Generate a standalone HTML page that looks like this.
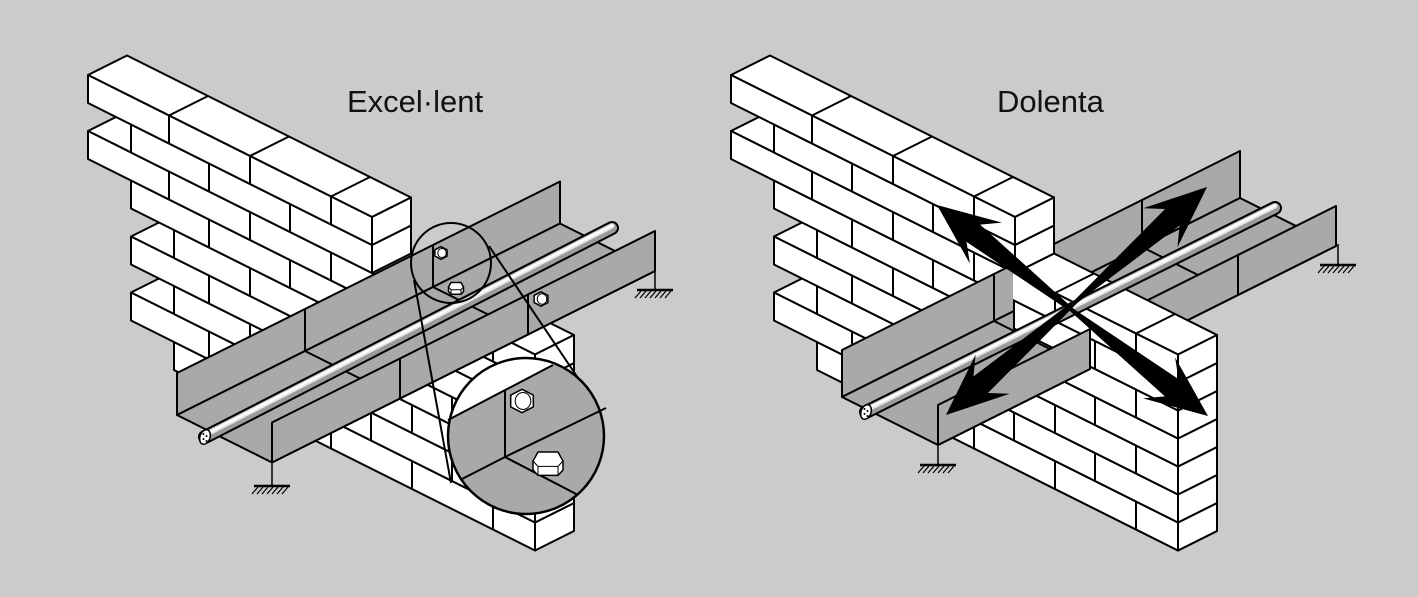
<!DOCTYPE html>
<html><head><meta charset="utf-8">
<style>
html,body{margin:0;padding:0;background:#cbcbcb;width:1418px;height:597px;overflow:hidden}
svg{display:block}
text{font-family:"Liberation Sans",sans-serif;fill:#111}
</style></head>
<body>
<svg id="s" width="1418" height="597" viewBox="0 0 1418 597" xmlns="http://www.w3.org/2000/svg">
<defs>
<clipPath id="cr"><rect x="1013" y="0" width="405" height="597"/></clipPath>
<clipPath id="bc"><circle cx="526" cy="436" r="78"/></clipPath>
</defs>
<rect width="1418" height="597" fill="#cbcbcb"/>
<g id="g"></g>
<text x="347" y="112" font-size="31">Excel·lent</text>
<text x="997" y="112" font-size="31">Dolenta</text>
</svg>
<script>
let out='';
const TR='#a9a9a9';
function pts(p){return p.map(q=>q[0].toFixed(1)+','+q[1].toFixed(1)).join(' ');}
function poly(p,f,w){out+=`<polygon points="${pts(p)}" fill="${f}" stroke="#000" stroke-width="${w||2}" stroke-linejoin="round"/>`;}
function ln(a,b,w){out+=`<line x1="${a[0].toFixed(1)}" y1="${a[1].toFixed(1)}" x2="${b[0].toFixed(1)}" y2="${b[1].toFixed(1)}" stroke="#000" stroke-width="${w||2}"/>`;}
const starts=[0,43,0,43,86,43,86,43,86];
function rowsSpec(){let r=[];for(let k=0;k<9;k++)r.push({a0:starts[k],a1:k<2?284:447});return r;}
function wall(ox,oy){
 const W=(a,b,v)=>[ox+a+b,oy+0.5*a-0.5*b+v];
 const R=rowsSpec();
 for(let k=8;k>=0;k--){
  const {a0,a1}=R[k];const v0=28*k;const off=k%2?40:0;
  const js=[];for(let a=off;a<a1;a+=81)if(a>a0+6&&a<a1-6)js.push(a);
  let tops=[];
  if(k==0)tops.push([a0,a1]);else{const p=R[k-1];if(a0<p.a0)tops.push([a0,p.a0]);if(a1>p.a1)tops.push([p.a1,a1]);}
  for(const [x0,x1] of tops){poly([W(x0,0,v0),W(x1,0,v0),W(x1,39,v0),W(x0,39,v0)],'#fff');
   for(const a of js)if(a>x0&&a<x1)ln(W(a,0,v0),W(a,39,v0));}
  poly([W(a0,0,v0),W(a1,0,v0),W(a1,0,v0+28),W(a0,0,v0+28)],'#fff');
  for(const a of js)ln(W(a,0,v0),W(a,0,v0+28));
  poly([W(a1,0,v0),W(a1,39,v0),W(a1,39,v0+28),W(a1,0,v0+28)],'#fff');
 }
}
function tray(bx,by,Wd,HL,HR,s0,s1,secs){
 const T=(s,t,z)=>[bx+s+t,by-0.5*s+0.5*t-z];
 poly([T(s0,0,0),T(s1,0,0),T(s1,0,HL),T(s0,0,HL)],TR);
 poly([T(s0,0,0),T(s1,0,0),T(s1,Wd,0),T(s0,Wd,0)],TR);
 for(const s of secs)if(s>s0&&s<s1){ln(T(s,0,0),T(s,0,HL));ln(T(s,0,0),T(s,Wd,0));}
 poly([T(s0,Wd,0),T(s1,Wd,0),T(s1,Wd,HR),T(s0,Wd,HR)],TR);
 for(const s of secs)if(s>s0&&s<s1)ln(T(s,Wd,0),T(s,Wd,HR));
}
function cable(x1,y1,x2,y2){
 out+=`<line x1="${x1}" y1="${y1}" x2="${x2}" y2="${y2}" stroke="#000" stroke-width="14" stroke-linecap="round"/>`;
 out+=`<line x1="${x1}" y1="${y1}" x2="${x2}" y2="${y2}" stroke="#9a9a9a" stroke-width="10" stroke-linecap="round"/>`;
 out+=`<line x1="${x1}" y1="${y1-2}" x2="${x2}" y2="${y2-2}" stroke="#e6e6e6" stroke-width="5" stroke-linecap="round"/>`;
 out+=`<line x1="${x1}" y1="${y1-2.5}" x2="${x2}" y2="${y2-2.5}" stroke="#fff" stroke-width="2" stroke-linecap="round"/>`;
 out+=`<ellipse cx="${x1}" cy="${y1}" rx="5" ry="7.5" transform="rotate(20 ${x1} ${y1})" fill="#fff" stroke="#000" stroke-width="1.5"/>`;
 for(const d of [[-1.5,-3],[1.5,-1],[-1.5,2],[1.5,4]])out+=`<circle cx="${x1+d[0]}" cy="${y1+d[1]}" r="1" fill="#000"/>`;
}
function ground(x,y,len){
 ln([x,y],[x,y+len],1.5);
 const yb=y+len;ln([x-18,yb],[x+18,yb],2.5);
 for(let i=-16;i<=16;i+=5)ln([x+i+2,yb+1],[x+i-4,yb+8],1.2);
}
function hexb(cx,cy,r){let p=[];for(let i=0;i<6;i++){const a=Math.PI/3*i+Math.PI/6;p.push([cx+r*Math.cos(a),cy+r*Math.sin(a)*0.9]);}poly(p,'#fff',1.5);out+=`<ellipse cx="${cx+1}" cy="${cy}" rx="${r*0.6}" ry="${r*0.65}" fill="none" stroke="#000" stroke-width="1"/>`;}
function hexn(cx,cy,w){const h=w*0.3;poly([[cx-w/2,cy],[cx-w/3,cy-h],[cx+w/3,cy-h],[cx+w/2,cy],[cx+w/2,cy+h],[cx+w/3,cy+h*1.6],[cx-w/3,cy+h*1.6],[cx-w/2,cy+h]],'#fff',1.5);ln([cx-w/2,cy],[cx-w/3,cy+h*0.6],1);ln([cx-w/3,cy+h*0.6],[cx+w/3,cy+h*0.6],1);ln([cx+w/3,cy+h*0.6],[cx+w/2,cy],1);ln([cx-w/3,cy+h*0.6],[cx-w/3,cy+h*1.6],1);ln([cx+w/3,cy+h*0.6],[cx+w/3,cy+h*1.6],1);}
function arrow(x1,y1,x2,y2){
 const dx=x2-x1,dy=y2-y1,L=Math.hypot(dx,dy),ux=dx/L,uy=dy/L,nx=-uy,ny=ux;
 const loc=[[0,0],[62,26],[46,11],[L/2,2],[L-46,11],[L-62,26],[L,0],[L-62,-26],[L-46,-11],[L/2,-2],[46,-11],[62,-26]];
 const p=loc.map(q=>[x1+ux*q[0]+nx*q[1],y1+uy*q[0]+ny*q[1]]);
 out+=`<polygon points="${pts(p)}" fill="#000"/>`;
}
wall(88,75);
tray(177,415,95,42,40,0,383,[128,256]);
cable(205,437,612,228);
hexb(541,299,8);hexb(441,253,7);hexn(456,287,15);
ground(272,463,23);ground(655,269,21);
out+=`<circle cx="451" cy="263" r="40" fill="none" stroke="#000" stroke-width="2"/>`;
ln([414,280],[451,483]);ln([489,246],[578,378]);
out+=`<g clip-path="url(#bc)"><rect x="440" y="350" width="180" height="180" fill="${TR}"/>`;
out+=`<polygon points="440,350 620,350 620,360 553,365 448,420 440,425" fill="#fff"/></g>`;
ln([448,420],[553,365]);ln([505,390],[505,457]);ln([505,457],[606,408]);ln([505,457],[462,479]);ln([505,457],[578,495]);
hexb(522,401,13);hexn(548,461,30);
out+=`<circle cx="526" cy="436" r="78" fill="none" stroke="#000" stroke-width="2.5"/>`;
wall(731,75);
tray(842,397,96,47,40,150,398,[210,300]);
out+=`<g clip-path="url(#cr)">`;
const save=out;out='';wall(731,75);const w2=out;out=save+w2+`</g>`;
tray(842,397,96,47,40,0,152,[]);
cable(866,412,1275,208);
ground(938,445,20);ground(1338,244,21);
arrow(937,205,1208,416);
arrow(1207,187,946,415);
document.getElementById('g').innerHTML=out;
</script>
</body></html>
